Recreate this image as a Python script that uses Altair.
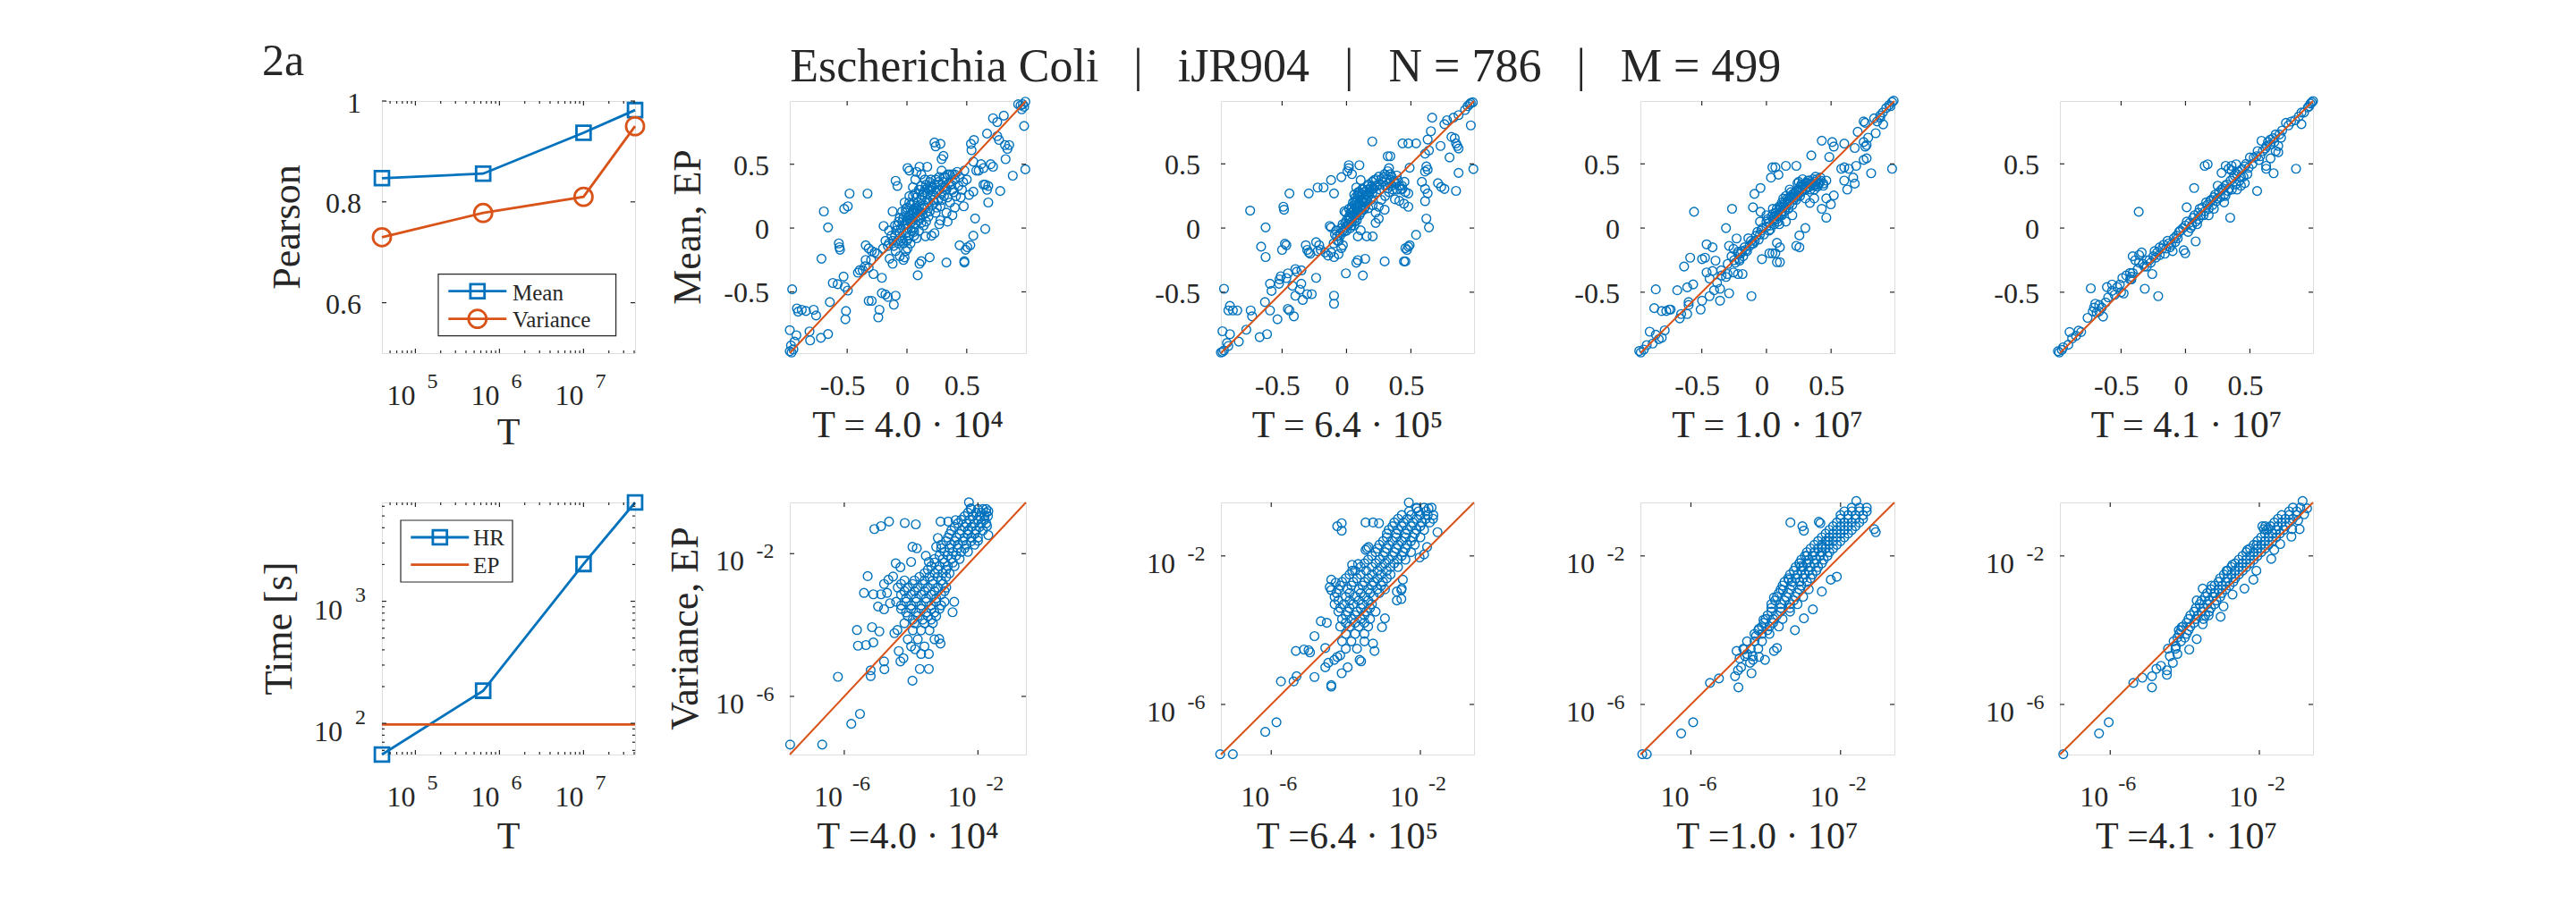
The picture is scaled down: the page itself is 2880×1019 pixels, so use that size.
import altair as alt
import pandas as pd

FONT = "Liberation Serif"
BLUE = "#0072BD"
ORANGE = "#D95319"
INK = "#262626"
TICK_FS = 32
EXP_FS = 24
TITLE_FS = 44
XT_FS = 42
H = 282

# ---------------- data ----------------
T_runs = [4.0e4, 6.4e5, 1.0e7, 4.1e7]
pearson_mean = [0.847, 0.856, 0.937, 0.982]
pearson_variance = [0.730, 0.778, 0.810, 0.950]
time_hr = [55.5, 185.0, 2020.0, 6450.0]
time_ep_T = [4.0e4, 4.1e7]
time_ep = [98.0, 98.0]

T_major = [1e5, 1e6, 1e7]
T_major_exp = ["5", "6", "7"]
T_minor = [5e4, 6e4, 7e4, 8e4, 9e4, 2e5, 3e5, 4e5, 5e5, 6e5, 7e5, 8e5, 9e5,
           2e6, 3e6, 4e6, 5e6, 6e6, 7e6, 8e6, 9e6, 2e7, 3e7, 4e7]
pearson_ticks = [0.6, 0.8, 1.0]
pearson_tick_labels = ["0.6", "0.8", "1"]
time_major = [1e2, 1e3]
time_major_exp = ["2", "3"]
time_minor = [60, 70, 80, 90, 200, 300, 400, 500, 600, 700, 800, 900,
              2000, 3000, 4000, 5000, 6000]
mean_ticks = [-0.5, 0.0, 0.5]
mean_tick_labels = ["-0.5", "0", "0.5"]
var_ticks = [1e-6, 1e-2]
var_ticks_exp = ["-6", "-2"]

top_titles = ["T = 4.0 · 10⁴", "T = 6.4 · 10⁵", "T = 1.0 · 10⁷", "T = 4.1 · 10⁷"]
bottom_titles = ["T =4.0 · 10⁴", "T =6.4 · 10⁵", "T =1.0 · 10⁷", "T =4.1 · 10⁷"]
SEP = "\u2002\u2005|\u2005\u2002"
main_title = SEP.join(["Escherichia Coli", "iJR904", "N = 786", "M = 499"])

# Mean (HR, EP) per T
mean_t1 = [(0.99,0.99),(0.97,0.97),(0.95,0.96),(0.98,0.95),(0.96,0.93),(0.93,0.97),
 (0.98,0.80),(0.99,0.46),(0.885,0.41),(0.825,0.54),(0.855,0.65),(0.82,0.65),(0.84,0.62),
 (0.77,0.69),(0.755,0.72),(0.72,0.86),(0.755,0.83),(0.81,0.88),(0.67,0.74),(0.535,0.66),
 (0.56,0.69),(0.54,0.61),(0.23,0.67),(0.28,0.66),(0.24,0.64),(0.305,0.565),(0.29,0.54),
 (0.005,0.47),(0.02,0.45),(0.105,0.48),(0.17,0.48),(0.29,0.45),(-0.095,0.37),(-0.08,0.33),
 (-0.33,0.27),(-0.48,0.27),(-0.495,0.17),(-0.525,0.15),(-0.695,0.13),(-0.66,0.005),
 (-0.57,-0.12),(-0.565,-0.15),(-0.56,-0.17),(-0.715,-0.24),(-0.345,-0.135),(-0.32,-0.16),
 (-0.295,-0.18),(-0.27,-0.19),(-0.195,0.016),(-0.12,0.13),(-0.04,0.13),(-0.345,-0.25),
 (-0.32,-0.31),(-0.62,-0.43),(-0.58,-0.44),(-0.53,-0.38),(-0.52,-0.46),(-0.495,-0.49),
 (-0.41,-0.35),(-0.37,-0.33),(-0.28,-0.36),(-0.21,-0.39),(-0.145,-0.24),(-0.12,-0.28),
 (-0.095,-0.18),(-0.21,-0.51),(-0.18,-0.52),(-0.16,-0.54),(-0.095,-0.53),(-0.11,-0.60),
 (-0.32,-0.57),(-0.295,-0.57),(-0.23,-0.64),(-0.24,-0.70),(-0.51,-0.65),(-0.515,-0.715),
 (-0.645,-0.58),(-0.96,-0.48),(-0.92,-0.63),(-0.88,-0.64),(-0.845,-0.65),(-0.91,-0.655),
 (-0.78,-0.64),(-0.76,-0.685),(-0.815,-0.81),(-0.81,-0.88),(-0.72,-0.86),(-0.66,-0.83),
 (-0.98,-0.80),(-0.925,-0.84),(-0.94,-0.89),(-0.97,-0.92),(-0.965,-0.975),(-0.98,-0.965),
 (-0.95,-0.95),(0.005,-0.16),(-0.01,-0.18),(-0.06,-0.22),(-0.03,-0.25),(-0.02,-0.23),
 (0.09,-0.37),(0.12,-0.26),(0.105,-0.28),(0.19,-0.23),(0.33,-0.27),(0.48,-0.27),(0.48,-0.26),
 (0.44,-0.135),(0.505,-0.15),(0.49,-0.17),(0.53,-0.135),(0.555,-0.06),(0.57,0.075),
 (0.655,-0.007),(0.155,-0.065),(0.205,-0.06),(0.23,-0.04),(0.27,0.03),(0.68,0.20),
 (0.67,0.30),(0.68,0.33),(0.64,0.34),(0.78,0.29),(0.555,0.285),(0.52,0.26),(0.475,0.17),
 (0.60,0.45),(0.64,0.47),(0.70,0.50),(0.62,0.50),(0.72,0.48),(0.555,0.52),(0.58,0.45),
 (0.655,0.34),(-0.395,-0.33),(-0.35,-0.30),(-0.30,-0.25),(-0.25,-0.20),(-0.20,-0.16),
 (-0.15,-0.12),(-0.12,-0.10),(-0.10,-0.06),(-0.08,-0.10),(-0.06,-0.04),(-0.05,0.00),
 (-0.04,-0.08),(-0.02,0.03),(-0.01,-0.04),(0.00,0.06),(0.01,0.00),(0.02,0.10),(0.03,0.04),
 (0.04,-0.02),(0.05,0.14),(0.05,0.08),(0.06,0.20),(0.07,0.03),(0.08,0.12),(0.08,0.24),
 (0.10,0.17),(0.10,0.06),(0.11,0.30),(0.12,0.22),(0.13,0.10),(0.14,0.28),(0.15,0.16),
 (0.16,0.34),(0.17,0.22),(0.18,0.09),(0.19,0.30),(0.20,0.38),(0.21,0.18),(0.22,0.26),
 (0.23,0.34),(0.24,0.12),(0.25,0.30),(0.26,0.22),(0.27,0.40),(0.28,0.17),(0.30,0.32),
 (0.31,0.25),(0.32,0.40),(0.33,0.12),(0.35,0.35),(0.36,0.20),(0.38,0.42),(0.39,0.28),
 (0.40,0.16),(0.42,0.44),(0.43,0.33),(0.45,0.24),(0.47,0.36),(0.02,0.25),(0.05,0.32),
 (-0.02,0.20),(0.07,0.38),(0.00,-0.10),(0.06,-0.06),(0.10,-0.02),(0.14,0.02),(0.34,0.05),
 (0.38,0.10),(0.28,0.06),(-0.15,-0.02),(-0.18,-0.10),(0.12,0.42),(0.08,0.44),(0.40,0.42),
 (0.48,0.45),
 (-0.08,0.02),(-0.06,0.08),(-0.04,0.05),(-0.03,-0.12),(-0.01,0.12),(0.00,0.16),(0.01,0.08),
 (0.02,-0.06),(0.03,0.18),(0.04,0.12),(0.06,0.00),(0.07,0.16),(0.09,0.20),(0.09,0.09),
 (0.11,0.13),(0.12,0.04),(0.13,0.26),(0.14,0.18),(0.15,0.30),(0.16,0.12),(0.17,0.27),
 (0.18,0.20),(0.19,0.36),(0.20,0.25),(0.21,0.32),(0.23,0.20),(0.24,0.28),(0.26,0.36),
 (0.27,0.30),(0.29,0.22),(0.30,0.36),(0.31,0.40),(0.33,0.30),(0.34,0.42),(0.37,0.34),
 (0.40,0.38),(0.41,0.25),(0.44,0.40),(0.46,0.30),(0.50,0.38),(-0.07,-0.12),(-0.11,-0.14),
 (0.00,0.03),(0.03,0.07),(0.06,0.11),(0.08,0.15),
 (-0.09,-0.02),(-0.07,0.05),(-0.05,-0.10),(-0.03,0.08),(-0.01,0.15),(0.01,-0.08),(0.02,0.20),
 (0.04,0.05),(0.05,0.25),(0.06,-0.03),(0.07,0.27),(0.09,0.14),(0.10,0.30),(0.11,0.08),
 (0.12,0.33),(0.13,0.15),(0.15,0.38),(0.16,0.05),(0.17,0.31),(0.19,0.13),(0.20,0.30),
 (0.22,0.22),(0.24,0.38),(0.25,0.16),(0.27,0.34),(0.29,0.27),(0.32,0.32),(0.34,0.24),
 (0.36,0.42),(0.38,0.30),(-0.13,-0.06),(-0.16,-0.14),(-0.10,0.02),(0.03,-0.12),(0.08,-0.08)]

mean_t2 = [(0.965,0.975),(0.94,0.95),(0.92,0.92),(0.955,0.965),(0.98,0.98),(0.965,0.80),
 (0.985,0.46),(0.87,0.43),(0.85,0.29),(0.87,0.62),(0.85,0.66),(0.86,0.64),(0.84,0.70),
 (0.815,0.71),(0.80,0.55),(0.73,0.64),(0.76,0.81),(0.78,0.84),(0.83,0.86),(0.87,0.88),
 (0.665,0.86),(0.655,0.755),(0.63,0.69),(0.64,0.605),(0.61,0.58),(0.62,0.48),(0.63,0.455),
 (0.61,0.44),(0.71,0.35),(0.735,0.32),(0.76,0.305),(0.585,0.36),(0.61,0.305),(0.63,0.27),
 (0.61,0.21),(0.62,0.074),(0.64,0.005),(0.54,-0.053),(0.435,0.66),(0.48,0.66),(0.54,0.66),
 (0.20,0.675),(0.32,0.56),(0.34,0.56),(0.49,0.47),(0.48,-0.145),(0.49,-0.134),(0.47,-0.17),
 (0.457,-0.157),(0.446,-0.26),(0.457,-0.26),(0.296,-0.26),(0.076,-0.27),(0.088,-0.25),
 (0.145,-0.24),(0.127,-0.37),(-0.005,-0.353),(-0.097,-0.527),(-0.097,-0.59),(0.157,-0.065),
 (0.203,-0.065),(0.226,0.04),(-0.443,0.27),(-0.293,0.27),(-0.49,0.166),(-0.485,0.143),
 (-0.478,-0.122),(-0.748,0.136),(-0.628,0.005),(-0.663,-0.145),(-0.628,-0.226),(-0.50,-0.17),
 (-0.467,-0.134),(-0.316,-0.134),(-0.305,-0.17),(-0.293,-0.19),(-0.282,-0.20),(-0.236,-0.11),
 (-0.212,-0.134),(-0.224,-0.18),(-0.166,-0.19),(-0.143,-0.215),(-0.12,-0.19),(-0.097,-0.226),
 (-0.062,-0.203),(-0.04,-0.157),(-0.028,-0.134),(-0.397,-0.32),(-0.386,-0.34),(-0.455,-0.353),
 (-0.467,-0.39),(-0.351,-0.434),(-0.363,-0.48),(-0.397,-0.527),(-0.34,-0.56),(-0.305,-0.515),
 (-0.27,-0.515),(-0.236,-0.388),(-0.594,-0.434),(-0.582,-0.49),(-0.524,-0.434),(-0.51,-0.376),
 (-0.52,-0.40),(-0.633,-0.577),(-0.594,-0.642),(-0.536,-0.711),(-0.455,-0.63),(-0.443,-0.642),
 (-0.409,-0.688),(-0.744,-0.642),(-0.733,-0.688),(-0.617,-0.827),(-0.674,-0.85),(-0.778,-0.792),
 (-0.836,-0.885),(-0.951,-0.473),(-0.905,-0.607),(-0.917,-0.642),(-0.882,-0.642),(-0.848,-0.642),
 (-0.963,-0.804),(-0.905,-0.827),(-0.928,-0.896),(-0.917,-0.919),(-0.963,-0.965),(-0.951,-0.954),
 (-0.975,-0.97),(-0.224,0.316),(-0.178,0.316),(-0.12,0.374),(-0.097,0.27),(-0.04,0.397),
 (-0.016,0.13),(-0.005,0.12),(-0.13,0.016),(-0.12,0.005),(0.018,0.467),(0.018,0.49),
 (0.007,0.443),(0.042,0.42),(0.10,0.49),(0.076,0.316),(0.11,0.374),(0.17,0.33),(0.215,0.374),
 (0.25,0.40),(0.296,0.42),(0.32,0.443),(0.33,0.467),(0.34,0.42),(0.34,0.374),(0.376,0.35),
 (0.41,0.33),(0.434,0.305),(0.457,0.28),(0.48,0.27),(0.376,0.224),(0.41,0.212),(0.446,0.19),
 (0.48,0.166),(0.296,0.143),(0.25,0.166),(0.203,0.178),(0.17,0.155),(0.134,0.143),(0.226,0.12),
 (0.25,0.074),(0.088,-0.065),(0.11,-0.018),(-0.074,-0.065),(-0.051,-0.042),(-0.028,-0.018),
 (-0.005,0.005),(0.018,0.028),(0.042,0.051),(0.065,0.097),(0.076,0.143),(0.088,0.166),
 (0.10,0.19),(0.11,0.212),(0.134,0.236),(0.157,0.26),(0.18,0.28),(0.203,0.305),(0.042,0.12),
 (0.065,0.051),(0.018,0.074),(0.11,0.12),(0.145,0.166),(0.065,0.212),(0.088,0.26),(0.122,0.305),
 (0.042,0.166),(0.00,0.06),(0.03,0.00),(0.06,0.02),(0.08,0.06),(0.10,0.10),(0.12,0.14),
 (0.14,0.20),(0.16,0.22),(0.05,0.20),(0.02,0.15),(0.09,0.28),(-0.03,0.03),(-0.06,-0.10),
 (-0.10,-0.12),(-0.08,-0.02),(-0.35,-0.33),(-0.42,-0.45),(-0.20,-0.17),
 (-0.09,-0.05),(-0.07,-0.10),(-0.05,-0.06),(-0.02,-0.03),(0.00,-0.02),(0.01,0.03),(0.03,0.07),
 (0.04,0.02),(0.05,0.10),(0.06,0.14),(0.07,0.08),(0.08,0.20),(0.09,0.13),(0.10,0.24),
 (0.11,0.17),(0.12,0.26),(0.13,0.20),(0.14,0.28),(0.15,0.22),(0.16,0.30),(0.17,0.25),
 (0.19,0.32),(0.20,0.27),(0.22,0.33),(0.23,0.28),(0.25,0.34),(0.26,0.30),(0.28,0.36),
 (0.30,0.33),(0.31,0.38),(0.33,0.35),(0.35,0.40),(0.37,0.37),(0.39,0.41),(0.27,0.22),
 (0.30,0.25),(0.33,0.28),(0.36,0.30),(0.39,0.30),(0.42,0.30),
 (-0.04,0.00),(-0.01,0.04),(0.02,0.09),(0.04,0.15),(0.06,0.18),(0.07,0.24),(0.09,0.18),
 (0.10,0.28),(0.12,0.22),(0.13,0.30),(0.15,0.26),(0.17,0.34),(0.18,0.30),(0.20,0.36),
 (0.21,0.31),(0.23,0.38),(0.24,0.33),(0.27,0.38),(0.29,0.40),(0.32,0.31),(0.35,0.33),
 (0.38,0.35),(0.40,0.37),(0.43,0.33),(0.45,0.36),(0.03,0.12),(0.06,0.26),(0.08,0.10),
 (0.14,0.16),(0.19,0.22)]

mean_t3 = [(0.972,0.982),(0.949,0.958),(0.984,0.993),(0.926,0.935),(0.96,0.95),(0.90,0.90),
 (0.88,0.86),(0.972,0.462),(0.81,0.427),(0.903,0.808),(0.856,0.831),(0.833,0.855),(0.88,0.878),
 (0.764,0.82),(0.752,0.831),(0.845,0.739),(0.787,0.704),(0.752,0.67),(0.775,0.647),(0.764,0.635),
 (0.706,0.75),(0.683,0.624),(0.775,0.543),(0.752,0.531),(0.694,0.485),(0.637,0.462),(0.579,0.462),
 (0.602,0.473),(0.602,0.658),(0.521,0.635),(0.509,0.67),(0.428,0.681),(0.486,0.554),(0.347,0.566),
 (0.683,0.346),(0.671,0.393),(0.602,0.37),(0.625,0.30),(0.521,0.254),(0.463,0.231),(0.498,0.185),
 (0.463,0.081),(0.428,0.15),(0.336,0.196),(0.301,0.231),(0.37,0.231),(0.417,0.393),(0.44,0.346),
 (0.463,0.37),(0.394,0.323),(0.37,0.30),(0.301,0.0),(0.255,-0.058),(0.231,-0.139),(0.255,-0.15),
 (0.081,-0.115),(0.104,-0.15),(0.069,-0.196),(0.081,-0.266),(0.104,-0.266),(0.046,-0.196),
 (0.023,-0.196),(-0.035,-0.242),(-0.116,-0.531),(0.15,0.485),(0.069,0.473),(0.046,0.473),
 (0.093,0.416),(0.035,0.393),(0.231,0.485),(-0.046,0.312),(-0.093,0.266),(-0.104,0.162),
 (-0.046,0.127),(-0.266,0.15),(-0.255,-0.162),(-0.313,0.0),(-0.56,0.127),(-0.231,-0.081),
 (-0.289,-0.139),(-0.22,-0.185),(-0.208,-0.254),(-0.463,-0.127),(-0.417,-0.15),(-0.475,-0.231),
 (-0.498,-0.242),(-0.394,-0.254),(-0.59,-0.231),(-0.637,-0.30),(-0.463,-0.346),(-0.417,-0.335),
 (-0.44,-0.393),(-0.347,-0.37),(-0.313,-0.381),(-0.301,-0.358),(-0.255,-0.346),(-0.22,-0.358),
 (-0.185,-0.358),(-0.382,-0.427),(-0.359,-0.473),(-0.405,-0.485),(-0.359,-0.566),(-0.289,-0.508),
 (-0.44,-0.531),(-0.498,-0.566),(-0.509,-0.635),(-0.567,-0.439),(-0.613,-0.462),(-0.602,-0.577),
 (-0.602,-0.60),(-0.671,-0.704),(-0.66,-0.67),(-0.613,-0.67),(-0.69,-0.485),(-0.856,-0.478),
 (-0.868,-0.624),(-0.81,-0.647),(-0.775,-0.647),(-0.752,-0.635),(-0.741,-0.635),(-0.903,-0.808),
 (-0.856,-0.831),(-0.81,-0.855),(-0.787,-0.797),(-0.833,-0.866),(-0.88,-0.90),(-0.926,-0.912),
 (-0.949,-0.947),(-0.972,-0.97),(-0.984,-0.958),(-0.20,-0.20),(-0.17,-0.15),(-0.15,-0.18),
 (-0.12,-0.10),(-0.10,-0.12),(-0.08,-0.06),(-0.06,-0.09),(-0.04,-0.02),(-0.02,-0.05),(0.00,0.01),
 (0.02,0.04),(0.03,-0.01),(0.05,0.07),(0.06,0.03),(0.08,0.10),(0.09,0.05),(0.10,0.14),(0.12,0.10),
 (0.13,0.18),(0.14,0.13),(0.16,0.20),(0.17,0.15),(0.19,0.24),(0.20,0.18),(0.22,0.27),(0.23,0.22),
 (0.25,0.30),(0.26,0.25),(0.28,0.33),(0.30,0.30),(0.32,0.35),(0.34,0.34),(0.36,0.38),(0.38,0.36),
 (0.18,0.30),(0.15,0.25),(0.12,0.20),(0.24,0.35),(0.28,0.38),(0.00,0.10),(0.05,0.15),(-0.05,0.05),
 (0.10,0.03),(0.15,0.05),(0.20,0.10),(-0.30,-0.28),(-0.35,-0.33),(-0.27,-0.22),(-0.25,-0.25),
 (0.00,0.05),(0.02,-0.02),(0.04,0.09),(0.06,0.06),(0.07,0.12),(0.09,0.09),(0.11,0.16),(0.12,0.13),
 (0.14,0.20),(0.15,0.16),(0.17,0.22),(0.18,0.19),(0.20,0.26),(0.21,0.22),(0.23,0.29),(0.24,0.25),
 (0.26,0.32),(0.27,0.28),(0.29,0.34),(0.30,0.31),(0.32,0.37),(0.33,0.32),(0.35,0.35),(0.37,0.33),
 (0.39,0.38),(0.40,0.34),(0.42,0.37),(0.44,0.33),(-0.07,-0.03),(-0.09,-0.10),(-0.13,-0.14),
 (-0.16,-0.17),(-0.18,-0.22),(-0.22,-0.20),(-0.24,-0.27),(-0.14,-0.08),(0.08,0.15),(0.13,0.23),
 (0.19,0.28),(0.25,0.36),
 (0.01,0.07),(0.03,0.02),(0.05,0.11),(0.08,0.07),(0.10,0.17),(0.11,0.11),(0.13,0.16),(0.16,0.23),
 (0.18,0.24),(0.21,0.27),(0.22,0.24),(0.25,0.28),(0.27,0.34),(0.28,0.30),(0.31,0.35),(0.33,0.37),
 (0.34,0.30),(0.36,0.33),(0.38,0.40),(0.41,0.35),(-0.03,0.00),(-0.05,-0.05),(-0.11,-0.12),
 (-0.19,-0.18),(-0.21,-0.24)]

mean_t4 = [(-0.99,-0.96),(-0.98,-0.97),(-0.96,-0.95),(-0.95,-0.93),(-0.91,-0.91),(-0.90,-0.81),
 (-0.85,-0.84),(-0.81,-0.81),(-0.88,-0.86),(-0.83,-0.80),(-0.76,-0.70),(-0.72,-0.65),(-0.71,-0.62),
 (-0.67,-0.65),(-0.64,-0.69),(-0.67,-0.60),(-0.70,-0.59),(-0.735,-0.47),(-0.69,-0.66),(-0.65,-0.62),
 (-0.62,-0.58),(-0.61,-0.46),(-0.57,-0.49),(-0.57,-0.44),(-0.51,-0.44),(-0.50,-0.50),(-0.48,-0.51),
 (-0.60,-0.54),(-0.55,-0.52),(-0.53,-0.46),(-0.43,-0.35),(-0.46,-0.37),(-0.49,-0.39),(-0.42,-0.38),
 (-0.41,-0.35),(-0.37,-0.32),(-0.42,-0.40),(-0.43,-0.40),(-0.41,-0.22),(-0.36,-0.21),(-0.34,-0.19),
 (-0.39,-0.25),(-0.36,-0.27),(-0.33,-0.28),(-0.30,-0.25),(-0.28,-0.25),(-0.25,-0.22),(-0.32,-0.30),
 (-0.363,0.127),(-0.212,-0.531),(-0.316,-0.473),(-0.258,-0.358),(-0.20,-0.21),(-0.23,-0.23),
 (-0.18,-0.16),(-0.15,-0.16),(-0.16,-0.20),(-0.13,-0.12),(-0.11,-0.13),(-0.14,-0.10),(-0.09,-0.08),
 (-0.07,-0.06),(-0.06,-0.08),(-0.10,-0.18),(-0.20,-0.15),(-0.24,-0.18),(-0.014,-0.173),
 (-0.002,-0.196),(0.079,-0.104),(0.009,0.162),(0.067,0.312),(0.149,0.485),(0.172,0.497),
 (0.347,0.081),(-0.04,-0.02),(-0.02,0.00),(0.00,0.02),(0.02,-0.03),(0.03,0.04),(0.05,0.02),
 (0.06,0.08),(0.08,0.05),(0.10,0.12),(0.10,0.07),(0.12,0.10),(0.13,0.16),(0.15,0.13),(0.16,0.20),
 (0.18,0.15),(0.20,0.22),(0.21,0.18),(0.23,0.26),(0.24,0.21),(0.26,0.28),(0.27,0.24),(0.29,0.31),
 (0.30,0.26),(0.32,0.34),(0.33,0.29),(0.35,0.37),(0.36,0.30),(0.38,0.41),(0.39,0.34),(0.41,0.44),
 (0.42,0.37),(0.44,0.46),(0.45,0.40),(0.47,0.50),(0.48,0.42),(0.50,0.55),(0.52,0.50),(0.312,0.485),
 (0.335,0.462),(0.358,0.45),(0.358,0.485),(0.393,0.497),(0.28,0.43),(0.25,0.33),(0.31,0.25),
 (0.30,0.20),(0.22,0.15),(0.18,0.10),(0.40,0.30),(0.43,0.33),(0.46,0.35),(0.55,0.56),(0.57,0.53),
 (0.60,0.60),(0.59,0.68),(0.64,0.67),(0.66,0.65),(0.62,0.62),(0.68,0.70),(0.72,0.64),(0.70,0.60),
 (0.73,0.73),(0.72,0.59),(0.684,0.427),(0.626,0.462),(0.626,0.485),(0.66,0.543),(0.742,0.704),
 (0.556,0.289),(0.858,0.462),(0.75,0.76),(0.78,0.82),(0.80,0.80),(0.82,0.83),(0.85,0.84),
 (0.88,0.87),(0.90,0.81),(0.90,0.90),(0.92,0.90),(0.95,0.94),(0.97,0.97),(0.98,0.98),(0.99,0.99),
 (0.96,0.95),
 (-0.30,-0.30),(-0.27,-0.27),(-0.22,-0.19),(-0.17,-0.13),(-0.12,-0.15),(-0.08,-0.11),(-0.05,-0.03),
 (0.01,0.05),(0.04,0.00),(0.07,0.10),(0.09,0.03),(0.11,0.15),(0.14,0.10),(0.17,0.18),(0.19,0.21),
 (0.22,0.24),(0.25,0.23),(0.28,0.30),(0.31,0.33),(0.34,0.31),(0.37,0.39),(0.40,0.42),(0.43,0.40),
 (0.46,0.48),(0.49,0.47),(0.53,0.55),(0.56,0.60),(0.58,0.56),(0.63,0.64),(0.66,0.69),(0.69,0.67),
 (0.70,0.73)]

# Variance (HR, EP) per T, as log10 values
var_t1_log10 = [(-7.62,-7.35),(-6.66,-7.35),(-5.79,-6.77),(-5.53,-6.49),(-6.19,-5.45),(-5.21,-5.27),
 (-5.21,-5.43),(-4.80,-5.24),(-4.81,-5.02),(-5.62,-4.14),(-5.59,-4.58),(-5.35,-4.56),(-5.13,-4.49),
 (-5.17,-4.06),(-4.95,-4.18),(-5.30,-2.63),(-5.41,-3.10),(-5.10,-1.31),(-4.90,-1.23),(-4.66,-1.10),
 (-4.19,-1.14),(-3.86,-1.18),(-3.96,-1.81),(-3.83,-1.85),(-4.46,-2.27),(-4.32,-2.38),(-4.00,-2.23),
 (-4.54,-2.64),(-4.68,-2.73),(-4.81,-2.85),(-5.13,-3.14),(-4.90,-3.14),(-4.72,-3.10),(-4.99,-3.48),
 (-4.81,-3.56),(-4.63,-3.39),(-4.50,-4.23),(-4.41,-4.14),(-4.37,-4.73),(-4.32,-5.02),(-4.23,-4.93),
 (-3.96,-5.56),(-3.88,-4.68),(-3.70,-4.81),(-3.47,-4.81),(-3.47,-5.23),(-3.74,-5.23),(-3.16,-4.39),
 (-3.12,-4.52),(-2.76,-3.64),(-2.71,-3.35),(-2.27,-0.56),(-2.22,-0.73),(-1.69,-0.81),(-1.73,-1.23),
 (-1.69,-1.48),(-2.00,-1.64),(-3.12,-1.10),(-2.89,-1.10),(-2.67,-1.06),(-3.20,-1.56),(-3.25,-1.81),
 (-3.56,-2.06),(-3.47,-2.23),
 (-2.20,-0.75),(-2.00,-0.75),(-1.85,-0.75),(-1.75,-0.75),(-2.40,-0.95),(-2.15,-0.95),(-1.95,-0.95),
 (-1.80,-0.95),(-1.70,-0.95),(-2.60,-1.15),(-2.35,-1.15),(-2.10,-1.15),(-1.90,-1.15),(-1.75,-1.15),
 (-2.80,-1.35),(-2.50,-1.35),(-2.30,-1.35),(-2.05,-1.35),(-1.85,-1.35),(-2.90,-1.55),(-2.65,-1.55),
 (-2.40,-1.55),(-2.20,-1.55),(-2.00,-1.55),(-3.10,-1.75),(-2.80,-1.75),(-2.60,-1.75),(-2.35,-1.75),
 (-2.10,-1.75),(-3.00,-1.95),(-2.75,-1.95),(-2.50,-1.95),(-2.30,-1.95),(-3.30,-2.15),(-3.05,-2.15),
 (-2.80,-2.15),(-2.55,-2.15),(-3.40,-2.35),(-3.15,-2.35),(-2.90,-2.35),(-2.70,-2.35),(-3.60,-2.55),
 (-3.30,-2.55),(-3.05,-2.55),(-2.85,-2.55),(-4.20,-2.75),(-3.90,-2.75),(-3.60,-2.75),(-3.35,-2.75),
 (-3.10,-2.75),(-4.40,-2.95),(-4.10,-2.95),(-3.80,-2.95),(-3.50,-2.95),(-3.20,-2.95),(-2.95,-2.95),
 (-4.30,-3.15),(-4.00,-3.15),(-3.70,-3.15),(-3.40,-3.15),(-3.10,-3.15),(-4.45,-3.35),(-4.15,-3.35),
 (-3.85,-3.35),(-3.55,-3.35),(-3.25,-3.35),(-3.00,-3.35),(-4.30,-3.55),(-4.00,-3.55),(-3.70,-3.55),
 (-3.40,-3.55),(-3.15,-3.55),(-4.10,-3.75),(-3.80,-3.75),(-3.50,-3.75),(-3.25,-3.75),(-4.20,-3.95),
 (-3.90,-3.95),(-3.60,-3.95),(-3.35,-3.95),(-3.95,-4.15),(-3.70,-4.15),(-3.45,-4.15),(-4.10,-4.40),
 (-3.80,-4.40),(-3.30,-4.40),(-4.00,-4.60),(-3.60,-4.60),
 (-2.30,-0.85),(-2.05,-0.85),(-1.90,-0.85),(-1.75,-0.85),(-2.50,-1.05),(-2.25,-1.05),(-2.00,-1.05),
 (-1.80,-1.05),(-2.70,-1.25),(-2.40,-1.25),(-2.20,-1.25),(-1.95,-1.25),(-2.85,-1.45),(-2.55,-1.45),
 (-2.30,-1.45),(-2.10,-1.45),(-2.95,-1.65),(-2.70,-1.65),(-2.45,-1.65),(-2.20,-1.65),(-3.10,-1.85),
 (-2.85,-1.85),(-2.60,-1.85),(-2.40,-1.85),(-3.15,-2.05),(-2.90,-2.05),(-2.65,-2.05),(-3.30,-2.25),
 (-3.00,-2.25),(-2.75,-2.25),(-3.50,-2.45),(-3.20,-2.45),(-2.95,-2.45),(-3.75,-2.65),(-3.45,-2.65),
 (-3.20,-2.65),(-2.95,-2.65),(-4.30,-2.85),(-3.95,-2.85),(-3.65,-2.85),(-3.35,-2.85),(-3.05,-2.85),
 (-4.20,-3.05),(-3.90,-3.05),(-3.60,-3.05),(-3.30,-3.05),(-3.00,-3.05),(-4.15,-3.25),(-3.85,-3.25),
 (-3.55,-3.25),(-3.25,-3.25),(-4.30,-3.45),(-4.00,-3.45),(-3.70,-3.45),(-3.40,-3.45),(-3.10,-3.45),
 (-4.15,-3.65),(-3.85,-3.65),(-3.55,-3.65),(-3.30,-3.65),(-3.95,-3.85),(-3.65,-3.85),(-3.40,-3.85)]

var_t2_log10 = [(-7.37,-7.34),(-7.03,-7.34),(-6.16,-6.74),(-5.86,-6.48),(-5.74,-5.38),(-5.40,-5.38),
 (-5.32,-5.24),(-4.84,-5.26),(-4.39,-5.52),(-4.39,-5.48),(-5.34,-4.56),(-5.12,-4.52),(-5.00,-4.54),
 (-4.96,-4.60),(-4.84,-4.16),(-4.55,-4.48),(-4.67,-3.76),(-4.51,-3.80),(-4.55,-5.00),(-4.47,-4.88),
 (-4.31,-4.80),(-4.23,-4.72),(-4.15,-4.68),(-4.11,-5.16),(-3.95,-5.00),(-3.63,-4.80),(-3.59,-4.84),
 (-4.23,-1.20),(-4.11,-1.12),(-4.11,-1.32),(-3.47,-1.10),(-3.27,-1.10),(-3.11,-1.12),(-4.39,-2.64),
 (-4.43,-2.84),(-4.27,-2.72),(-4.39,-2.92),(-3.83,-2.24),(-3.67,-2.22),(-3.83,-2.40),(-3.43,-1.80),
 (-3.47,-1.84),(-3.39,-1.76),(-2.31,-0.56),(-2.10,-0.72),(-1.78,-0.72),(-1.66,-1.00),(-1.54,-1.36),
 (-2.63,-2.96),(-2.51,-2.92),(-2.51,-3.16),(-2.95,-3.68),(-3.03,-3.92),(-3.27,-4.36),(-3.23,-4.56),
 (-1.82,-1.76),(-1.90,-1.96),(-2.02,-2.04),(-2.50,-2.88),(-2.47,-2.64),(-2.63,-3.20),
 (-2.10,-0.70),(-1.90,-0.70),(-1.70,-0.70),(-2.50,-0.90),(-2.25,-0.90),(-2.00,-0.90),(-1.80,-0.90),
 (-1.65,-0.90),(-2.70,-1.10),(-2.45,-1.10),(-2.20,-1.10),(-1.95,-1.10),(-1.75,-1.10),(-2.85,-1.30),
 (-2.60,-1.30),(-2.35,-1.30),(-2.10,-1.30),(-1.90,-1.30),(-2.90,-1.50),(-2.65,-1.50),(-2.40,-1.50),
 (-2.20,-1.50),(-2.00,-1.50),(-3.10,-1.70),(-2.85,-1.70),(-2.60,-1.70),(-2.35,-1.70),(-2.15,-1.70),
 (-3.20,-1.90),(-2.95,-1.90),(-2.70,-1.90),(-2.45,-1.90),(-2.25,-1.90),(-3.40,-2.10),(-3.10,-2.10),
 (-2.85,-2.10),(-2.60,-2.10),(-2.40,-2.10),(-3.60,-2.30),(-3.30,-2.30),(-3.05,-2.30),(-2.80,-2.30),
 (-2.60,-2.30),(-3.90,-2.50),(-3.60,-2.50),(-3.30,-2.50),(-3.05,-2.50),(-2.80,-2.50),(-4.10,-2.70),
 (-3.80,-2.70),(-3.50,-2.70),(-3.25,-2.70),(-3.00,-2.70),(-4.20,-2.90),(-3.95,-2.90),(-3.65,-2.90),
 (-3.40,-2.90),(-3.15,-2.90),(-2.95,-2.90),(-4.30,-3.10),(-4.00,-3.10),(-3.75,-3.10),(-3.50,-3.10),
 (-3.25,-3.10),(-4.30,-3.30),(-4.05,-3.30),(-3.80,-3.30),(-3.55,-3.30),(-3.30,-3.30),(-4.20,-3.50),
 (-3.95,-3.50),(-3.70,-3.50),(-3.45,-3.50),(-3.20,-3.50),(-4.10,-3.70),(-3.85,-3.70),(-3.60,-3.70),
 (-3.35,-3.70),(-4.15,-3.90),(-3.90,-3.90),(-3.65,-3.90),(-3.40,-3.90),(-4.00,-4.10),(-3.75,-4.10),
 (-3.50,-4.10),(-4.10,-4.30),(-3.85,-4.30),(-3.50,-4.30),(-4.00,-4.50),(-3.70,-4.50),
 (-2.30,-0.80),(-2.05,-0.80),(-1.85,-0.80),(-2.60,-1.00),(-2.35,-1.00),(-2.10,-1.00),(-1.85,-1.00),
 (-2.75,-1.20),(-2.50,-1.20),(-2.25,-1.20),(-2.00,-1.20),(-2.90,-1.40),(-2.65,-1.40),(-2.40,-1.40),
 (-2.15,-1.40),(-3.00,-1.60),(-2.75,-1.60),(-2.50,-1.60),(-2.25,-1.60),(-3.15,-1.80),(-2.90,-1.80),
 (-2.65,-1.80),(-2.40,-1.80),(-3.30,-2.00),(-3.00,-2.00),(-2.75,-2.00),(-2.50,-2.00),(-3.50,-2.20),
 (-3.20,-2.20),(-2.95,-2.20),(-2.70,-2.20),(-3.75,-2.40),(-3.45,-2.40),(-3.15,-2.40),(-2.90,-2.40),
 (-4.00,-2.60),(-3.70,-2.60),(-3.40,-2.60),(-3.15,-2.60),(-2.90,-2.60),(-4.15,-2.80),(-3.85,-2.80),
 (-3.55,-2.80),(-3.30,-2.80),(-3.05,-2.80),(-4.25,-3.00),(-3.90,-3.00),(-3.60,-3.00),(-3.35,-3.00),
 (-3.10,-3.00),(-4.20,-3.20),(-3.90,-3.20),(-3.65,-3.20),(-3.40,-3.20),(-4.15,-3.40),(-3.90,-3.40),
 (-3.60,-3.40),(-3.35,-3.40),(-4.00,-3.60),(-3.75,-3.60),(-3.50,-3.60),(-4.00,-3.80),(-3.75,-3.80),
 (-3.50,-3.80)]

var_t3_log10 = [(-7.30,-7.34),(-7.18,-7.34),(-6.26,-6.78),(-5.94,-6.48),(-5.49,-5.42),(-5.25,-5.30),
 (-4.82,-5.24),(-4.73,-5.54),(-3.34,-1.10),(-3.02,-1.20),(-2.98,-1.32),(-2.58,-1.08),(-2.54,-1.12),
 (-1.58,-0.52),(-1.06,-1.36),(-1.10,-1.28),(-4.78,-4.56),(-4.58,-4.52),(-4.50,-4.64),(-4.70,-4.76),
 (-4.42,-4.88),(-4.34,-4.80),(-4.18,-4.72),(-4.02,-4.80),(-4.38,-5.16),(-4.66,-5.00),(-4.74,-5.08),
 (-4.06,-3.72),(-4.18,-3.96),(-4.26,-4.16),(-3.78,-4.56),(-3.70,-4.48),(-3.22,-4.00),(-2.98,-3.68),
 (-2.74,-3.44),(-2.50,-2.96),(-2.26,-2.64),(-2.10,-2.56),(-3.06,-2.28),(-3.10,-2.20),(-3.38,-2.64),
 (-3.54,-2.92),(-3.78,-3.12),(-2.90,-2.00),(-2.50,-1.76),(-2.34,-1.60),
 (-1.70,-0.70),(-1.50,-0.70),(-1.30,-0.70),(-2.00,-0.90),(-1.80,-0.90),(-1.60,-0.90),(-1.40,-0.90),
 (-2.10,-1.10),(-1.90,-1.10),(-1.70,-1.10),(-1.50,-1.10),(-2.30,-1.30),(-2.10,-1.30),(-1.90,-1.30),
 (-1.70,-1.30),(-2.50,-1.50),(-2.30,-1.50),(-2.10,-1.50),(-1.90,-1.50),(-2.70,-1.70),(-2.50,-1.70),
 (-2.30,-1.70),(-2.10,-1.70),(-2.90,-1.90),(-2.70,-1.90),(-2.50,-1.90),(-2.30,-1.90),(-3.05,-2.10),
 (-2.85,-2.10),(-2.65,-2.10),(-2.45,-2.10),(-3.20,-2.30),(-3.00,-2.30),(-2.80,-2.30),(-2.60,-2.30),
 (-3.35,-2.50),(-3.15,-2.50),(-2.95,-2.50),(-2.75,-2.50),(-3.50,-2.70),(-3.30,-2.70),(-3.10,-2.70),
 (-2.90,-2.70),(-3.60,-2.90),(-3.35,-2.90),(-3.10,-2.90),(-2.85,-2.90),(-3.70,-3.10),(-3.45,-3.10),
 (-3.20,-3.10),(-3.00,-3.10),(-3.85,-3.30),(-3.60,-3.30),(-3.35,-3.30),(-3.15,-3.30),(-3.85,-3.50),
 (-3.60,-3.50),(-3.35,-3.50),(-4.00,-3.70),(-3.80,-3.70),(-3.55,-3.70),(-4.10,-3.90),(-3.90,-3.90),
 (-3.65,-3.90),(-4.30,-4.10),(-4.10,-4.10),(-3.90,-4.10),(-4.50,-4.30),(-4.30,-4.30),(-4.10,-4.30),
 (-4.60,-4.50),(-4.40,-4.50),(-4.20,-4.50),(-4.55,-4.70),(-4.35,-4.70),
 (-1.90,-0.80),(-1.70,-0.80),(-1.50,-0.80),(-1.30,-0.80),(-2.00,-1.00),(-1.80,-1.00),(-1.60,-1.00),
 (-1.40,-1.00),(-2.20,-1.20),(-2.00,-1.20),(-1.80,-1.20),(-1.60,-1.20),(-2.40,-1.40),(-2.20,-1.40),
 (-2.00,-1.40),(-1.80,-1.40),(-2.60,-1.60),(-2.40,-1.60),(-2.20,-1.60),(-2.00,-1.60),(-2.80,-1.80),
 (-2.60,-1.80),(-2.40,-1.80),(-2.20,-1.80),(-2.95,-2.00),(-2.75,-2.00),(-2.55,-2.00),(-2.35,-2.00),
 (-3.10,-2.20),(-2.90,-2.20),(-2.70,-2.20),(-2.50,-2.20),(-3.25,-2.40),(-3.05,-2.40),(-2.85,-2.40),
 (-2.65,-2.40),(-3.40,-2.60),(-3.20,-2.60),(-3.00,-2.60),(-2.80,-2.60),(-3.55,-2.80),(-3.30,-2.80),
 (-3.05,-2.80),(-3.65,-3.00),(-3.40,-3.00),(-3.15,-3.00),(-3.75,-3.20),(-3.50,-3.20),(-3.25,-3.20),
 (-3.85,-3.40),(-3.60,-3.40),(-3.35,-3.40),(-3.95,-3.60),(-3.70,-3.60),(-4.05,-3.80),(-3.80,-3.80),
 (-4.20,-4.00),(-3.95,-4.00)]

var_t4_log10 = [(-7.26,-7.34),(-6.30,-6.78),(-6.04,-6.48),(-5.38,-5.42),(-5.14,-5.28),(-4.88,-5.54),
 (-4.88,-5.24),(-4.76,-5.04),(-0.84,-0.52),(-1.14,-1.48),(-0.92,-1.28),(-1.84,-1.20),(-1.88,-1.28),
 (-4.64,-4.96),(-4.48,-5.08),(-4.48,-5.20),(-4.32,-4.88),(-4.20,-4.64),(-4.24,-4.44),(-4.16,-4.00),
 (-4.08,-3.92),(-3.88,-4.52),(-3.68,-4.24),(-3.52,-3.84),(-3.36,-3.60),(-3.04,-3.64),(-2.96,-3.36),
 (-2.72,-3.04),(-2.40,-2.88),(-2.16,-2.64),(-2.08,-2.40),(-1.68,-2.08),(-1.60,-1.84),(-1.44,-1.68),
 (-1.12,-1.28),(-0.96,-1.04),(-0.80,-0.88),(-0.72,-0.72),(-3.68,-3.20),(-3.52,-2.88),(-3.28,-2.80),
 (-2.88,-2.40),(-2.72,-2.24),(-2.32,-1.84),(-2.08,-1.72),(-1.92,-1.20),(-1.76,-1.28),
 (-1.10,-0.70),(-0.90,-0.70),(-1.40,-0.90),(-1.20,-0.90),(-1.00,-0.90),(-1.60,-1.10),(-1.40,-1.10),
 (-1.20,-1.10),(-1.80,-1.30),(-1.55,-1.30),(-1.35,-1.30),(-1.95,-1.50),(-1.75,-1.50),(-1.55,-1.50),
 (-2.15,-1.70),(-1.95,-1.70),(-1.75,-1.70),(-2.35,-1.90),(-2.15,-1.90),(-1.95,-1.90),(-2.55,-2.10),
 (-2.35,-2.10),(-2.15,-2.10),(-2.75,-2.30),(-2.55,-2.30),(-2.35,-2.30),(-2.95,-2.50),(-2.75,-2.50),
 (-2.55,-2.50),(-3.10,-2.70),(-2.90,-2.70),(-2.70,-2.70),(-3.30,-2.90),(-3.10,-2.90),(-2.90,-2.90),
 (-3.45,-3.10),(-3.25,-3.10),(-3.05,-3.10),(-3.60,-3.30),(-3.40,-3.30),(-3.20,-3.30),(-3.75,-3.50),
 (-3.55,-3.50),(-3.35,-3.50),(-3.90,-3.70),(-3.70,-3.70),(-3.50,-3.70),(-4.05,-3.90),(-3.85,-3.90),
 (-4.15,-4.10),(-3.95,-4.10),(-4.30,-4.30),(-4.10,-4.30),(-4.45,-4.50),(-4.25,-4.50),(-4.40,-4.70),
 (-1.20,-0.80),(-1.00,-0.80),(-1.50,-1.00),(-1.30,-1.00),(-1.10,-1.00),(-1.70,-1.20),(-1.50,-1.20),
 (-1.30,-1.20),(-1.85,-1.40),(-1.65,-1.40),(-1.45,-1.40),(-2.05,-1.60),(-1.85,-1.60),(-1.65,-1.60),
 (-2.25,-1.80),(-2.05,-1.80),(-1.85,-1.80),(-2.45,-2.00),(-2.25,-2.00),(-2.05,-2.00),(-2.65,-2.20),
 (-2.45,-2.20),(-2.25,-2.20),(-2.85,-2.40),(-2.65,-2.40),(-2.45,-2.40),(-3.05,-2.60),(-2.85,-2.60),
 (-2.65,-2.60),(-3.20,-2.80),(-3.00,-2.80),(-2.80,-2.80),(-3.40,-3.00),(-3.20,-3.00),(-3.00,-3.00),
 (-3.55,-3.20),(-3.35,-3.20),(-3.15,-3.20),(-3.70,-3.40),(-3.50,-3.40),(-3.30,-3.40),(-3.85,-3.60),
 (-3.65,-3.60),(-3.45,-3.60),(-3.95,-3.80),(-3.75,-3.80),(-4.10,-4.00),(-3.90,-4.00),(-4.20,-4.20),
 (-4.00,-4.20)]


# ---------------- helpers ----------------
def one():
    return alt.Chart(pd.DataFrame({"k": [0]}))


def px_rule(x, x2, y, y2, color, sw):
    return one().mark_rule(color=color, strokeWidth=sw).encode(
        x=alt.value(x), x2=alt.value(x2), y=alt.value(y), y2=alt.value(y2))


def px_point(x, y, shape, size, color, sw):
    return one().mark_point(shape=shape, size=size, filled=False, color=color,
                            strokeWidth=sw, opacity=1).encode(x=alt.value(x), y=alt.value(y))


def px_text(x, y, txt, fs, align="left", angle=0):
    return one().mark_text(font=FONT, fontSize=fs, color=INK, align=align,
                           baseline="alphabetic", angle=angle).encode(
        x=alt.value(x), y=alt.value(y), text=alt.value(txt))


def px_rect(x, x2, y, y2):
    return one().mark_rect(fill="white", stroke=INK, strokeWidth=1.2).encode(
        x=alt.value(x), x2=alt.value(x2), y=alt.value(y), y2=alt.value(y2))


def tick_layers(xs, ys, xt, yt, W, L):
    out = []
    if xt:
        b = alt.Chart(pd.DataFrame({"tx": xt})).mark_rule(color=INK, strokeWidth=1.2)
        X = alt.X("tx:Q", scale=xs, axis=None)
        out += [b.encode(x=X, y=alt.value(H), y2=alt.value(H - L)),
                b.encode(x=X, y=alt.value(0), y2=alt.value(L))]
    if yt:
        b = alt.Chart(pd.DataFrame({"ty": yt})).mark_rule(color=INK, strokeWidth=1.2)
        Y = alt.Y("ty:Q", scale=ys, axis=None)
        out += [b.encode(y=Y, x=alt.value(0), x2=alt.value(L)),
                b.encode(y=Y, x=alt.value(W), x2=alt.value(W - L))]
    return out


def x_labels(xs, ticks, labels, y, dx):
    b = alt.Chart(pd.DataFrame({"lx": ticks, "s": labels}))
    return b.mark_text(font=FONT, fontSize=TICK_FS, color=INK, align="center",
                       baseline="alphabetic", dx=dx).encode(
        x=alt.X("lx:Q", scale=xs, axis=None), y=alt.value(y), text="s:N")


def y_labels(ys, ticks, labels, x, dy):
    b = alt.Chart(pd.DataFrame({"ly": ticks, "s": labels}))
    return b.mark_text(font=FONT, fontSize=TICK_FS, color=INK, align="right",
                       baseline="alphabetic", dy=dy).encode(
        y=alt.Y("ly:Q", scale=ys, axis=None), x=alt.value(x), text="s:N")


def xlog_labels(xs, ticks, exps, d10, dexp, y10, yexp):
    b = alt.Chart(pd.DataFrame({"lx": ticks, "e": exps}))
    X = alt.X("lx:Q", scale=xs, axis=None)
    return [
        b.mark_text(font=FONT, fontSize=TICK_FS, color=INK, align="right",
                    baseline="alphabetic", dx=d10).encode(x=X, y=alt.value(H + y10),
                                                          text=alt.value("10")),
        b.mark_text(font=FONT, fontSize=EXP_FS, color=INK, align="left",
                    baseline="alphabetic", dx=dexp).encode(x=X, y=alt.value(H + yexp),
                                                           text="e:N"),
    ]


def ylog_labels(ys, ticks, exps, x10, xexp, dy10, dyexp):
    b = alt.Chart(pd.DataFrame({"ly": ticks, "e": exps}))
    Y = alt.Y("ly:Q", scale=ys, axis=None)
    return [
        b.mark_text(font=FONT, fontSize=TICK_FS, color=INK, align="right",
                    baseline="alphabetic", dy=dy10).encode(y=Y, x=alt.value(x10),
                                                           text=alt.value("10")),
        b.mark_text(font=FONT, fontSize=EXP_FS, color=INK, align="right",
                    baseline="alphabetic", dy=dyexp).encode(y=Y, x=alt.value(xexp),
                                                            text="e:N"),
    ]


# ---------------- panel A: Pearson ----------------
W_A = 283
xsT = alt.Scale(type="log", domain=[4.0e4, 4.1e7], nice=False)
ysA = alt.Scale(domain=[0.5, 1.0], nice=False, zero=False)
dfA = pd.DataFrame({"T": T_runs, "mean": pearson_mean, "var": pearson_variance})
XA = alt.X("T:Q", scale=xsT, axis=None)
panelA = alt.layer(
    alt.Chart(dfA).mark_line(color=BLUE, strokeWidth=2.8).encode(
        x=XA, y=alt.Y("mean:Q", scale=ysA, axis=None)),
    alt.Chart(dfA).mark_point(shape="square", size=250, filled=False, color=BLUE,
                              strokeWidth=2.8, opacity=1).encode(
        x=XA, y=alt.Y("mean:Q", scale=ysA, axis=None)),
    alt.Chart(dfA).mark_line(color=ORANGE, strokeWidth=2.8).encode(
        x=XA, y=alt.Y("var:Q", scale=ysA, axis=None)),
    alt.Chart(dfA).mark_point(shape="circle", size=400, filled=False, color=ORANGE,
                              strokeWidth=2.8, opacity=1).encode(
        x=XA, y=alt.Y("var:Q", scale=ysA, axis=None)),
    *tick_layers(xsT, ysA, T_major, pearson_ticks, W_A, 5),
    *tick_layers(xsT, ysA, T_minor, None, W_A, 3),
    *xlog_labels(xsT, T_major, T_major_exp, 0, 13, 58.3, 38.5),
    y_labels(ysA, pearson_ticks, pearson_tick_labels, -23, 12.5),
    px_text(W_A / 2, H + 101.7, "T", XT_FS, "center"),
    px_text(-92.5, H / 2, "Pearson", TITLE_FS, "center", 270),
    px_rect(63, 261.6, 193.7, 262.7),
    px_rule(74.3, 139.3, 212.7, 212.7, BLUE, 2.8),
    px_point(106.8, 212.7, "square", 250, BLUE, 2.8),
    px_text(146, 222.7, "Mean", 25),
    px_rule(74.3, 139.3, 243.7, 243.7, ORANGE, 2.8),
    px_point(106.8, 243.7, "circle", 400, ORANGE, 2.8),
    px_text(146, 252.7, "Variance", 25),
    px_text(-134, -29.3, "2a", 50),
    one().mark_rule(strokeOpacity=0, opacity=0).encode(
        x=alt.value(-425.7), x2=alt.value(-424.7), y=alt.value(-112.3), y2=alt.value(-111.3)),
).properties(width=W_A, height=H)

# ---------------- panel B: Time ----------------
ysB = alt.Scale(type="log", domain=[55.5, 6450], nice=False)
dfB = pd.DataFrame({"T": T_runs, "hr": time_hr})
dfE = pd.DataFrame({"T": time_ep_T, "ep": time_ep})
panelB = alt.layer(
    alt.Chart(dfB).mark_line(color=BLUE, strokeWidth=2.8).encode(
        x=XA, y=alt.Y("hr:Q", scale=ysB, axis=None)),
    alt.Chart(dfE).mark_line(color=ORANGE, strokeWidth=2.8).encode(
        x=XA, y=alt.Y("ep:Q", scale=ysB, axis=None)),
    alt.Chart(dfB).mark_point(shape="square", size=250, filled=False, color=BLUE,
                              strokeWidth=2.8, opacity=1).encode(
        x=XA, y=alt.Y("hr:Q", scale=ysB, axis=None)),
    *tick_layers(xsT, ysB, T_major, time_major, W_A, 5),
    *tick_layers(xsT, ysB, T_minor, time_minor, W_A, 3),
    *xlog_labels(xsT, T_major, T_major_exp, 0, 13, 58.4, 39),
    *ylog_labels(ysB, time_major, time_major_exp, -44, -18, 20, 0.5),
    px_text(W_A / 2, H + 105, "T", XT_FS, "center"),
    px_text(-100.7, H / 2, "Time [s]", TITLE_FS, "center", 270),
    px_rect(21, 146, 20, 89),
    px_rule(32.3, 97.3, 39, 39, BLUE, 2.8),
    px_point(64.8, 39, "square", 250, BLUE, 2.8),
    px_text(102.3, 48, "HR", 25),
    px_rule(32.3, 97.3, 69.7, 69.7, ORANGE, 2.8),
    px_text(102.3, 79, "EP", 25),
).properties(width=W_A, height=H)


# ---------------- scatter panels ----------------
def scatter(points, lo, hi, log, W, xtitle, ytitle=None, ytitle_x=None, extra=()):
    if log:
        df = pd.DataFrame({"x": [10 ** a for a, b in points], "y": [10 ** b for a, b in points]})
        dom = [10 ** lo, 10 ** hi]
        xs = alt.Scale(type="log", domain=dom, nice=False)
        ys = alt.Scale(type="log", domain=dom, nice=False)
        ticks = var_ticks
    else:
        df = pd.DataFrame({"x": [a for a, b in points], "y": [b for a, b in points]})
        dom = [lo, hi]
        xs = alt.Scale(domain=dom, nice=False, zero=False)
        ys = alt.Scale(domain=dom, nice=False, zero=False)
        ticks = mean_ticks
    pts = alt.Chart(df).mark_point(shape="circle", size=95, filled=False, color=BLUE,
                                   strokeWidth=1.4, opacity=1).encode(
        x=alt.X("x:Q", scale=xs, axis=None), y=alt.Y("y:Q", scale=ys, axis=None))
    diag = alt.Chart(pd.DataFrame({"d": dom})).mark_line(color=ORANGE, strokeWidth=2).encode(
        x=alt.X("d:Q", scale=xs, axis=None), y=alt.Y("d:Q", scale=ys, axis=None))
    layers = [pts, diag, *tick_layers(xs, ys, ticks, ticks, W, 5)]
    if log:
        layers += xlog_labels(xs, var_ticks, var_ticks_exp, -2, 9, 58.4, 39.7)
        layers += ylog_labels(ys, var_ticks, var_ticks_exp, -51, -17.5, 19, 5)
        layers.append(px_text(W / 2, H + 105, xtitle, XT_FS, "center"))
    else:
        layers.append(x_labels(xs, mean_ticks, mean_tick_labels, H + 47.4, -5))
        layers.append(y_labels(ys, mean_ticks, mean_tick_labels, -23, 12))
        layers.append(px_text(W / 2, H + 94, xtitle, XT_FS, "center"))
    if ytitle is not None:
        layers.append(px_text(ytitle_x, H / 2, ytitle, TITLE_FS, "center", 270))
    layers += list(extra)
    return alt.layer(*layers).properties(width=W, height=H)


W_S = [264, 283, 284, 283]
top_lo = [-0.98, -0.975, -0.975, -0.975]
top_hi = [0.995, 0.99, 0.99, 0.99]
bot_lo = [-7.63, -7.35, -7.35, -7.35]
bot_hi = [-0.565, -0.56, -0.56, -0.56]
mean_sets = [mean_t1, mean_t2, mean_t3, mean_t4]
var_sets = [var_t1_log10, var_t2_log10, var_t3_log10, var_t4_log10]

title_layer = px_text(554.3, -22, main_title, 52, "center")

tops, bots = [], []
for i in range(4):
    tops.append(scatter(mean_sets[i], top_lo[i], top_hi[i], False, W_S[i], top_titles[i],
                        "Mean, EP" if i == 0 else None, -100,
                        extra=[title_layer] if i == 0 else ()))
    bots.append(scatter(var_sets[i], bot_lo[i], bot_hi[i], True, W_S[i], bottom_titles[i],
                        "Variance, EP" if i == 0 else None, -103.4))


def spacer(w):
    return one().mark_point(opacity=0).encode(x=alt.value(0), y=alt.value(0)).properties(
        width=w, height=H, view=alt.ViewBackground(stroke="transparent"))


gaps = [173, 217.6, 185.4, 185]
cells = [panelA]
for i in range(4):
    cells += [spacer(gaps[i]), tops[i]]
cells.append(panelB)
for i in range(4):
    cells += [spacer(gaps[i]), bots[i]]

chart = alt.concat(*cells, columns=9, spacing={"row": 167, "column": 0},
                   bounds="flush", align="each").properties(padding=0).configure_view(
    stroke=INK, strokeWidth=1.2).configure(background="white")

chart.save("out.html", embed_options={"renderer": "svg", "actions": False})
